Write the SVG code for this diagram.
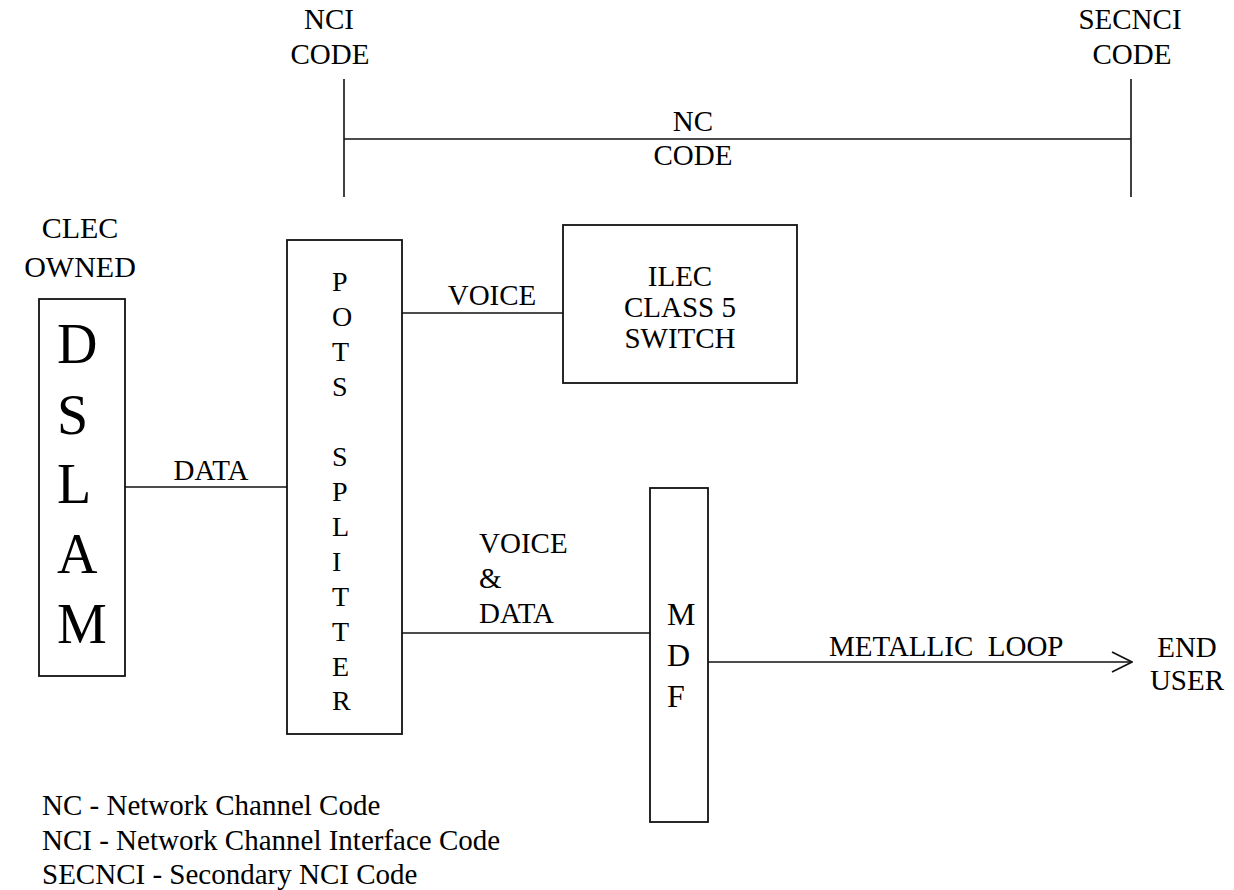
<svg xmlns="http://www.w3.org/2000/svg" width="1234" height="890" viewBox="0 0 1234 890">
<style>
text { font-family: "Liberation Serif", "Times New Roman", serif; fill: #000; font-size: 29px; }
.c { text-anchor: middle; }
.box { fill: #fff; stroke: #111; stroke-width: 1.8; }
.ln { fill: none; stroke: #111; stroke-width: 1.6; }
.big { font-size: 56px; }
.mdf { font-size: 32px; }
.lbl { font-size: 30px; }
.sp { font-size: 28px; }
</style>
<defs>
<marker id="open" viewBox="0 0 22 22" refX="21" refY="11" markerWidth="22" markerHeight="22" markerUnits="userSpaceOnUse" orient="auto">
<path d="M1,1 L21,11 L1,21" fill="none" stroke="#111" stroke-width="1.6"/>
</marker>
</defs>
<rect width="1234" height="890" fill="#fff"/>

<g id="connectors">
<line class="ln" x1="344" y1="79" x2="344" y2="197"/>
<line class="ln" x1="1131" y1="79" x2="1131" y2="197"/>
<line class="ln" x1="344" y1="139" x2="1131" y2="139" stroke-width="2.4" stroke="#222"/>
<line class="ln" x1="125" y1="487" x2="287" y2="487"/>
<line class="ln" x1="402" y1="313" x2="563" y2="313"/>
<line class="ln" x1="402" y1="633" x2="650" y2="633"/>
<line class="ln" x1="708" y1="662" x2="1132" y2="662" marker-end="url(#open)"/>
<text x="329" y="29" class="c">NCI</text>
<text x="330" y="64" class="c">CODE</text>
<text x="1130" y="29" class="c">SECNCI</text>
<text x="1132" y="64" class="c">CODE</text>
<text x="693" y="131" class="c">NC</text>
<text x="693" y="165" class="c">CODE</text>
<text x="211" y="480" class="c">DATA</text>
<text x="492" y="305" class="c">VOICE</text>
<text x="479" y="553">VOICE</text>
<text x="479" y="588">&amp;</text>
<text x="479" y="623">DATA</text>
<text x="829" y="656" xml:space="preserve">METALLIC  LOOP</text>
</g>

<g id="clec-label">
<text x="80" y="238" class="c lbl">CLEC</text>
<text x="80" y="277" class="c lbl">OWNED</text>
</g>

<g id="dslam">
<rect class="box" x="39" y="299" width="86" height="377"/>
<text class="big" x="57" y="363">D</text>
<text class="big" x="57" y="434">S</text>
<text class="big" x="57" y="503">L</text>
<text class="big" x="57" y="573">A</text>
<text class="big" x="57" y="643">M</text>
</g>

<g id="pots-splitter">
<rect class="box" x="287" y="240" width="115" height="494"/>
<text class="sp" x="332" y="291">P</text>
<text class="sp" x="332" y="326">O</text>
<text class="sp" x="332" y="361">T</text>
<text class="sp" x="332" y="396">S</text>
<text class="sp" x="332" y="466">S</text>
<text class="sp" x="332" y="501">P</text>
<text class="sp" x="332" y="536">L</text>
<text class="sp" x="332" y="571">I</text>
<text class="sp" x="332" y="606">T</text>
<text class="sp" x="332" y="641">T</text>
<text class="sp" x="332" y="676">E</text>
<text class="sp" x="332" y="710">R</text>
</g>

<g id="ilec-switch">
<rect class="box" x="563" y="225" width="234" height="158"/>
<text x="680" y="286" class="c">ILEC</text>
<text x="680" y="317" class="c">CLASS 5</text>
<text x="680" y="348" class="c">SWITCH</text>
</g>

<g id="mdf">
<rect class="box" x="650" y="488" width="58" height="334"/>
<text class="mdf" x="667" y="625">M</text>
<text class="mdf" x="667" y="666">D</text>
<text class="mdf" x="667" y="707">F</text>
</g>

<g id="end-user">
<text x="1187" y="657" class="c">END</text>
<text x="1187" y="690" class="c">USER</text>
</g>

<g id="legend">
<text x="42" y="815">NC - Network Channel Code</text>
<text x="42" y="850">NCI - Network Channel Interface Code</text>
<text x="42" y="884">SECNCI - Secondary NCI Code</text>
</g>
</svg>
